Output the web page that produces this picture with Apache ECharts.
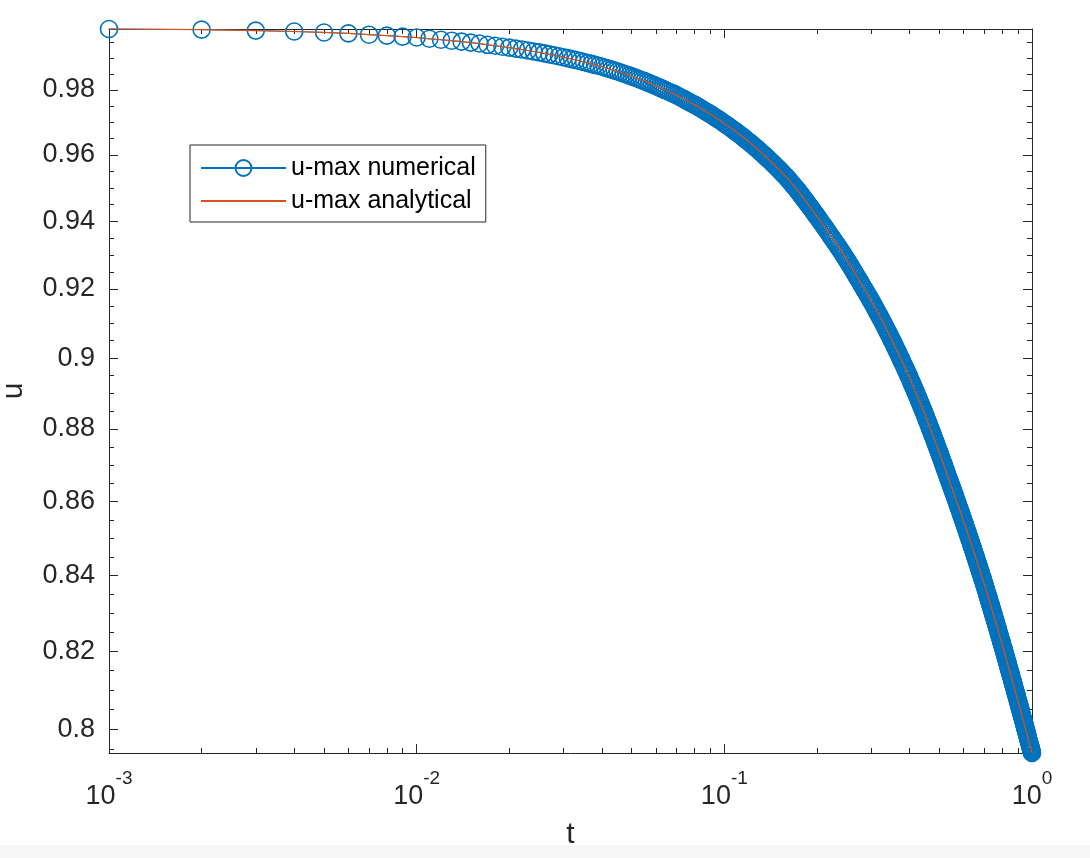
<!DOCTYPE html>
<html>
<head>
    <meta charset="utf-8">
    <title>u-max</title>
    <script src="https://cdn.jsdelivr.net/npm/echarts@6/dist/echarts.min.js"></script>
    <style>
        html, body { margin: 0; padding: 0; background: #fff; }
        #chart1 { width: 1090px; height: 858px; }
    </style>
</head>
<body>
<div id="chart1"></div>
<script type="text/javascript">
    // solver output: time grid per stretch (start, step) and u-max
    var tStart = [0.001, 0.202];
    var tStep = [0.001, 0.002];

    // t = 0.001 ... 0.200
    var uSeg1 = [
        0.9991, 0.9989, 0.9986, 0.9983, 0.9980, 0.9977, 0.9973, 0.9970, 0.9967, 0.9964,
        0.9960, 0.9957, 0.9954, 0.9951, 0.9948, 0.9945, 0.9941, 0.9938, 0.9935, 0.9932,
        0.9929, 0.9926, 0.9923, 0.9920, 0.9917, 0.9914, 0.9911, 0.9908, 0.9905, 0.9902,
        0.9899, 0.9896, 0.9893, 0.9890, 0.9887, 0.9884, 0.9881, 0.9878, 0.9875, 0.9872,
        0.9869, 0.9866, 0.9863, 0.9860, 0.9857, 0.9854, 0.9851, 0.9848, 0.9845, 0.9842,
        0.9839, 0.9836, 0.9833, 0.9830, 0.9827, 0.9824, 0.9821, 0.9818, 0.9815, 0.9812,
        0.9809, 0.9806, 0.9803, 0.9800, 0.9797, 0.9794, 0.9791, 0.9789, 0.9786, 0.9783,
        0.9780, 0.9777, 0.9774, 0.9771, 0.9768, 0.9765, 0.9762, 0.9759, 0.9756, 0.9754,
        0.9751, 0.9748, 0.9745, 0.9742, 0.9739, 0.9736, 0.9733, 0.9730, 0.9728, 0.9725,
        0.9722, 0.9719, 0.9716, 0.9713, 0.9710, 0.9708, 0.9705, 0.9702, 0.9699, 0.9696,
        0.9693, 0.9690, 0.9688, 0.9685, 0.9682, 0.9679, 0.9676, 0.9673, 0.9671, 0.9668,
        0.9665, 0.9662, 0.9659, 0.9657, 0.9654, 0.9651, 0.9648, 0.9645, 0.9642, 0.9640,
        0.9637, 0.9634, 0.9631, 0.9629, 0.9626, 0.9623, 0.9620, 0.9618, 0.9615, 0.9612,
        0.9609, 0.9606, 0.9604, 0.9601, 0.9598, 0.9595, 0.9593, 0.9590, 0.9587, 0.9584,
        0.9582, 0.9579, 0.9576, 0.9573, 0.9571, 0.9568, 0.9565, 0.9562, 0.9560, 0.9557,
        0.9554, 0.9552, 0.9549, 0.9546, 0.9543, 0.9541, 0.9538, 0.9535, 0.9533, 0.9530,
        0.9527, 0.9524, 0.9521, 0.9518, 0.9515, 0.9512, 0.9509, 0.9506, 0.9504, 0.9501,
        0.9498, 0.9495, 0.9492, 0.9489, 0.9486, 0.9483, 0.9480, 0.9477, 0.9474, 0.9471,
        0.9468, 0.9466, 0.9463, 0.9460, 0.9457, 0.9454, 0.9451, 0.9448, 0.9445, 0.9443,
        0.9440, 0.9437, 0.9434, 0.9431, 0.9428, 0.9425, 0.9422, 0.9420, 0.9417, 0.9414
    ];
    // t = 0.202 ... 1.000
    var uSeg2 = [
        0.9409, 0.9403, 0.9398, 0.9392, 0.9387, 0.9382, 0.9376, 0.9371, 0.9366, 0.9360,
        0.9355, 0.9350, 0.9345, 0.9340, 0.9335, 0.9330, 0.9325, 0.9320, 0.9315, 0.9310,
        0.9305, 0.9300, 0.9295, 0.9290, 0.9285, 0.9280, 0.9275, 0.9270, 0.9265, 0.9260,
        0.9255, 0.9250, 0.9245, 0.9240, 0.9235, 0.9231, 0.9226, 0.9221, 0.9216, 0.9211,
        0.9206, 0.9202, 0.9197, 0.9193, 0.9188, 0.9183, 0.9179, 0.9174, 0.9170, 0.9165,
        0.9161, 0.9156, 0.9152, 0.9147, 0.9142, 0.9138, 0.9133, 0.9129, 0.9124, 0.9120,
        0.9115, 0.9111, 0.9106, 0.9102, 0.9097, 0.9093, 0.9088, 0.9084, 0.9079, 0.9075,
        0.9070, 0.9066, 0.9061, 0.9057, 0.9052, 0.9048, 0.9044, 0.9039, 0.9035, 0.9030,
        0.9026, 0.9021, 0.9017, 0.9013, 0.9008, 0.9004, 0.9000, 0.8995, 0.8991, 0.8987,
        0.8982, 0.8978, 0.8974, 0.8969, 0.8965, 0.8961, 0.8957, 0.8952, 0.8948, 0.8944,
        0.8939, 0.8935, 0.8931, 0.8926, 0.8922, 0.8918, 0.8913, 0.8909, 0.8905, 0.8901,
        0.8896, 0.8892, 0.8888, 0.8884, 0.8879, 0.8875, 0.8871, 0.8867, 0.8862, 0.8858,
        0.8854, 0.8850, 0.8846, 0.8841, 0.8837, 0.8833, 0.8828, 0.8824, 0.8820, 0.8816,
        0.8812, 0.8807, 0.8803, 0.8799, 0.8795, 0.8791, 0.8786, 0.8782, 0.8778, 0.8774,
        0.8770, 0.8766, 0.8762, 0.8757, 0.8753, 0.8749, 0.8745, 0.8741, 0.8737, 0.8733,
        0.8729, 0.8725, 0.8721, 0.8717, 0.8713, 0.8709, 0.8705, 0.8701, 0.8696, 0.8692,
        0.8689, 0.8685, 0.8681, 0.8677, 0.8673, 0.8669, 0.8665, 0.8662, 0.8658, 0.8654,
        0.8650, 0.8646, 0.8643, 0.8639, 0.8635, 0.8632, 0.8628, 0.8624, 0.8621, 0.8617,
        0.8613, 0.8610, 0.8606, 0.8602, 0.8599, 0.8595, 0.8591, 0.8588, 0.8584, 0.8581,
        0.8577, 0.8573, 0.8570, 0.8566, 0.8563, 0.8559, 0.8556, 0.8552, 0.8548, 0.8545,
        0.8541, 0.8538, 0.8534, 0.8531, 0.8527, 0.8524, 0.8520, 0.8517, 0.8513, 0.8510,
        0.8506, 0.8503, 0.8500, 0.8496, 0.8493, 0.8489, 0.8486, 0.8482, 0.8479, 0.8476,
        0.8472, 0.8469, 0.8465, 0.8462, 0.8459, 0.8455, 0.8452, 0.8449, 0.8445, 0.8442,
        0.8439, 0.8435, 0.8432, 0.8429, 0.8425, 0.8422, 0.8419, 0.8415, 0.8412, 0.8409,
        0.8406, 0.8402, 0.8399, 0.8396, 0.8393, 0.8389, 0.8386, 0.8383, 0.8380, 0.8376,
        0.8373, 0.8370, 0.8366, 0.8363, 0.8360, 0.8357, 0.8353, 0.8350, 0.8347, 0.8343,
        0.8340, 0.8337, 0.8334, 0.8330, 0.8327, 0.8324, 0.8321, 0.8318, 0.8314, 0.8311,
        0.8308, 0.8305, 0.8302, 0.8298, 0.8295, 0.8292, 0.8289, 0.8286, 0.8283, 0.8279,
        0.8276, 0.8273, 0.8270, 0.8267, 0.8264, 0.8261, 0.8258, 0.8254, 0.8251, 0.8248,
        0.8245, 0.8242, 0.8239, 0.8236, 0.8233, 0.8230, 0.8227, 0.8224, 0.8221, 0.8218,
        0.8215, 0.8212, 0.8209, 0.8206, 0.8203, 0.8200, 0.8197, 0.8194, 0.8191, 0.8188,
        0.8185, 0.8182, 0.8179, 0.8176, 0.8173, 0.8170, 0.8167, 0.8164, 0.8161, 0.8158,
        0.8155, 0.8152, 0.8149, 0.8146, 0.8144, 0.8141, 0.8138, 0.8135, 0.8132, 0.8129,
        0.8126, 0.8123, 0.8121, 0.8118, 0.8115, 0.8112, 0.8109, 0.8106, 0.8103, 0.8101,
        0.8098, 0.8095, 0.8092, 0.8089, 0.8087, 0.8084, 0.8081, 0.8078, 0.8075, 0.8073,
        0.8070, 0.8067, 0.8064, 0.8062, 0.8059, 0.8056, 0.8053, 0.8051, 0.8048, 0.8045,
        0.8042, 0.8040, 0.8037, 0.8034, 0.8032, 0.8029, 0.8026, 0.8024, 0.8021, 0.8018,
        0.8016, 0.8013, 0.8010, 0.8008, 0.8005, 0.8002, 0.8000, 0.7997, 0.7994, 0.7992,
        0.7989, 0.7987, 0.7984, 0.7981, 0.7979, 0.7976, 0.7973, 0.7971, 0.7968, 0.7966,
        0.7963, 0.7961, 0.7958, 0.7955, 0.7953, 0.7950, 0.7948, 0.7945, 0.7943, 0.7940
    ];

    var xRange = [0.001, 1];
    var yRange = [0.794, 0.9991];
    var xMajor = [0.001, 0.01, 0.1, 1];
    var xMinor = [0.002, 0.003, 0.004, 0.005, 0.006, 0.007, 0.008, 0.009,
        0.02, 0.03, 0.04, 0.05, 0.06, 0.07, 0.08, 0.09,
        0.2, 0.3, 0.4, 0.5, 0.6, 0.7, 0.8, 0.9];
    var yMajor = [0.8, 0.82, 0.84, 0.86, 0.88, 0.9, 0.92, 0.94, 0.96, 0.98];
    var yMinor = [0.795, 0.805, 0.81, 0.815, 0.825, 0.83, 0.835, 0.845, 0.85, 0.855,
        0.865, 0.87, 0.875, 0.885, 0.89, 0.895, 0.905, 0.91, 0.915, 0.925, 0.93, 0.935,
        0.945, 0.95, 0.955, 0.965, 0.97, 0.975, 0.985, 0.99, 0.995];

    var ink = '#262626';
    var font = 'Liberation Sans, Arial, Helvetica, sans-serif';

    var uSegs = [uSeg1, uSeg2];
    var points = [];
    for (var s = 0; s < uSegs.length; s++) {
        for (var k = 0; k < uSegs[s].length; k++) {
            points.push([+(tStart[s] + k * tStep[s]).toFixed(3), uSegs[s][k]]);
        }
    }

    function logX(pos, ticks, len, main) {
        return {
            type: 'log', logBase: 10, min: xRange[0], max: xRange[1], position: pos,
            axisLine: { show: main, onZero: false, lineStyle: { color: ink, width: 1 } },
            axisTick: { show: true, inside: true, length: len, customValues: ticks, lineStyle: { color: ink, width: 1 } },
            axisLabel: { show: false },
            splitLine: { show: false },
            minorTick: { show: false }
        };
    }
    function logY(pos, ticks, len, main) {
        return {
            type: 'log', logBase: 10, min: yRange[0], max: yRange[1], position: pos,
            axisLine: { show: main, onZero: false, lineStyle: { color: ink, width: 1 } },
            axisTick: { show: true, inside: true, length: len, customValues: ticks, lineStyle: { color: ink, width: 1 } },
            axisLabel: { show: false },
            splitLine: { show: false },
            minorTick: { show: false }
        };
    }

    var xBottom = logX('bottom', xMajor, 9, true);
    xBottom.axisLabel = {
        show: true, customValues: xMajor, margin: 29, color: ink,
        formatter: function (v) {
            return '{b|10}{s|' + Math.round(Math.log(v) / Math.LN10) + '}';
        },
        rich: {
            b: { fontSize: 27, lineHeight: 30, color: ink, fontFamily: font },
            s: { fontSize: 19, lineHeight: 19, padding: [0, 0, 37, 0], color: ink, fontFamily: font }
        }
    };
    xBottom.name = 't';
    xBottom.nameLocation = 'middle';
    xBottom.nameGap = 67;
    xBottom.nameMoveOverlap = false;
    xBottom.nameTextStyle = { fontSize: 30, color: ink, fontFamily: font };

    var yLeft = logY('left', yMajor, 9, true);
    yLeft.axisLabel = {
        show: true, customValues: yMajor, margin: 14, color: ink,
        fontSize: 27, fontFamily: font,
        formatter: function (v) { return String(+v.toFixed(2)); }
    };
    yLeft.name = 'u';
    yLeft.nameLocation = 'middle';
    yLeft.nameGap = 80;
    yLeft.nameMoveOverlap = false;
    yLeft.nameTextStyle = { fontSize: 30, color: ink, fontFamily: font };

    var myChart1 = echarts.init(document.getElementById('chart1'));
    myChart1.setOption({
        animation: false,
        backgroundColor: '#fff',
        grid: { left: 109, right: 58, top: 29, bottom: 105, containLabel: false, outerBoundsMode: 'none' },
        legend: {
            orient: 'vertical', left: 190, top: 145,
            padding: [10, 10, 8, 10], itemGap: 7,
            itemWidth: 85, itemHeight: 20,
            borderColor: ink, borderWidth: 1, backgroundColor: '#fff',
            selectedMode: false,
            textStyle: { fontSize: 25, lineHeight: 26, color: '#000', fontFamily: font },
            data: [
                { name: 'u-max numerical' },
                { name: 'u-max analytical', itemStyle: { color: 'rgba(0,0,0,0)', borderWidth: 0, opacity: 0 } }
            ]
        },
        xAxis: [
            xBottom,
            logX('bottom', xMinor, 5, false),
            logX('top', xMajor, 9, true),
            logX('top', xMinor, 5, false)
        ],
        yAxis: [
            yLeft,
            logY('left', yMinor, 5, false),
            logY('right', yMajor, 9, true),
            logY('right', yMinor, 5, false)
        ],
        graphic: [{
            type: 'rect', left: 0, top: 845, silent: true, z: -10,
            shape: { width: 1090, height: 13 },
            style: { fill: '#f6f6f6' }
        }],
        series: [
            {
                name: 'u-max numerical', type: 'line', xAxisIndex: 0, yAxisIndex: 0,
                data: points, symbol: 'circle', symbolSize: 17, showSymbol: true, clip: false,
                itemStyle: { color: 'rgba(0,0,0,0)', borderColor: '#0072BD', borderWidth: 1.6 },
                lineStyle: { color: '#0072BD', width: 1 },
                emphasis: { disabled: true }, z: 2
            },
            {
                name: 'u-max analytical', type: 'line', xAxisIndex: 0, yAxisIndex: 0,
                data: points, symbol: 'none', showSymbol: false, clip: false,
                itemStyle: { color: '#D95319' },
                lineStyle: { color: '#D95319', width: 1.2 },
                emphasis: { disabled: true }, z: 3
            }
        ]
    });
</script>
</body>
</html>
